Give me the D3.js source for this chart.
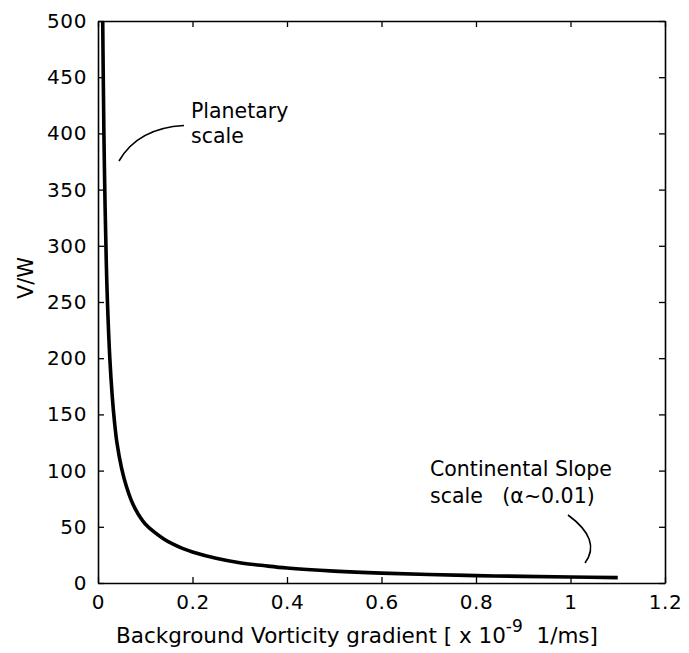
<!DOCTYPE html>
<html>
<head>
<meta charset="utf-8">
<script src="https://cdn.jsdelivr.net/npm/d3@7"></script>
<style>
  html, body { margin: 0; padding: 0; background: #fff; }
  svg text { font-family: "DejaVu Sans", "Noto Sans", sans-serif; fill: #000; }
</style>
</head>
<body>
<script>
// Data
const gradient = [0.01, 0.011, 0.0125, 0.015, 0.0175, 0.02, 0.025, 0.03, 0.035, 0.04, 0.05, 0.06, 0.07, 0.08, 0.09, 0.1, 0.12, 0.14, 0.16, 0.18, 0.2, 0.25, 0.3, 0.35, 0.4, 0.5, 0.6, 0.7, 0.8, 0.9, 1.0, 1.1];
const ratioVW = [500, 455, 400, 335, 286, 250, 200, 167, 143, 125, 102, 86, 74, 65, 58, 52.5, 45, 39, 34.3, 30.6, 27.6, 22, 18, 15.5, 13.3, 10.6, 8.8, 7.6, 6.6, 5.9, 5.3, 4.8];
const xTicks = [0, 0.2, 0.4, 0.6, 0.8, 1, 1.2];
const xTickLabels = ["0", "0.2", "0.4", "0.6", "0.8", "1", "1.2"];
const yTicks = [0, 50, 100, 150, 200, 250, 300, 350, 400, 450, 500];
const yTickLabels = ["0", "50", "100", "150", "200", "250", "300", "350", "400", "450", "500"];

const W = 689, H = 653;
const margin = {left: 98, right: 24, top: 21, bottom: 70};
const svg = d3.select("body").append("svg").attr("width", W).attr("height", H);

const x = d3.scaleLinear().domain([0, 1.2]).range([margin.left, W - margin.right]);
const y = d3.scaleLinear().domain([0, 500]).range([H - margin.bottom, margin.top]);

const fs = 20;
const tickLen = 6;

// Axes (ticks inward on all sides)
const gB = svg.append("g").attr("transform", `translate(0,${y(0)})`)
  .call(d3.axisBottom(x).tickValues(xTicks).tickFormat((d, i) => xTickLabels[i]).tickSizeInner(-tickLen).tickSizeOuter(0).tickPadding(12));
const gT = svg.append("g").attr("transform", `translate(0,${y(500)})`)
  .call(d3.axisTop(x).tickValues(xTicks).tickFormat("").tickSizeInner(-tickLen).tickSizeOuter(0));
const gL = svg.append("g").attr("transform", `translate(${x(0)},0)`)
  .call(d3.axisLeft(y).tickValues(yTicks).tickFormat((d, i) => yTickLabels[i]).tickSizeInner(-tickLen).tickSizeOuter(0).tickPadding(11));
const gR = svg.append("g").attr("transform", `translate(${x(1.2)},0)`)
  .call(d3.axisRight(y).tickValues(yTicks).tickFormat("").tickSizeInner(-tickLen).tickSizeOuter(0));

[gB, gT, gL, gR].forEach(g => {
  g.select(".domain").attr("stroke", "#000").attr("stroke-width", 1.6);
  g.selectAll(".tick line").attr("stroke", "#000").attr("stroke-width", 1.3);
  g.selectAll(".tick text").attr("font-size", fs).attr("font-family", null).attr("fill", "#000")
    .attr("letter-spacing", 0.6);
});
gB.selectAll(".tick text").attr("dy", "0.71em");

// Curve
const line = d3.line().x((d, i) => x(gradient[i])).y(d => y(d)).curve(d3.curveCatmullRom.alpha(0.5));
svg.append("path").datum(ratioVW)
  .attr("d", line)
  .attr("fill", "none").attr("stroke", "#000").attr("stroke-width", 3.6)
  .attr("stroke-linejoin", "round");

// Axis titles
const xt = svg.append("text").attr("x", 116).attr("y", 643).attr("font-size", 21.5);
xt.append("tspan").text("Background Vorticity gradient [ x 10");
xt.append("tspan").attr("dy", -11).attr("font-size", 17).text("-9");
xt.append("tspan").attr("dy", 11).attr("xml:space", "preserve").text("  1/ms]");

svg.append("text")
  .attr("transform", `translate(33,278) rotate(-90)`)
  .attr("text-anchor", "middle").attr("font-size", 21).text("V/W");

// Annotations
const ann = svg.append("g").attr("font-size", 20.5);
ann.append("text").attr("x", 191).attr("y", 118).text("Planetary");
ann.append("text").attr("x", 191).attr("y", 143).text("scale");
ann.append("text").attr("x", 430).attr("y", 476).text("Continental Slope");
ann.append("text").attr("x", 430).attr("y", 503).attr("xml:space", "preserve").text("scale   (\u03B1~0.01)");

svg.append("path").attr("d", "M184,125.5 Q138,128 119,161")
  .attr("fill", "none").attr("stroke", "#000").attr("stroke-width", 1.6);
svg.append("path").attr("d", "M568,515 Q602,540 585,563")
  .attr("fill", "none").attr("stroke", "#000").attr("stroke-width", 1.6);
</script>
</body>
</html>
